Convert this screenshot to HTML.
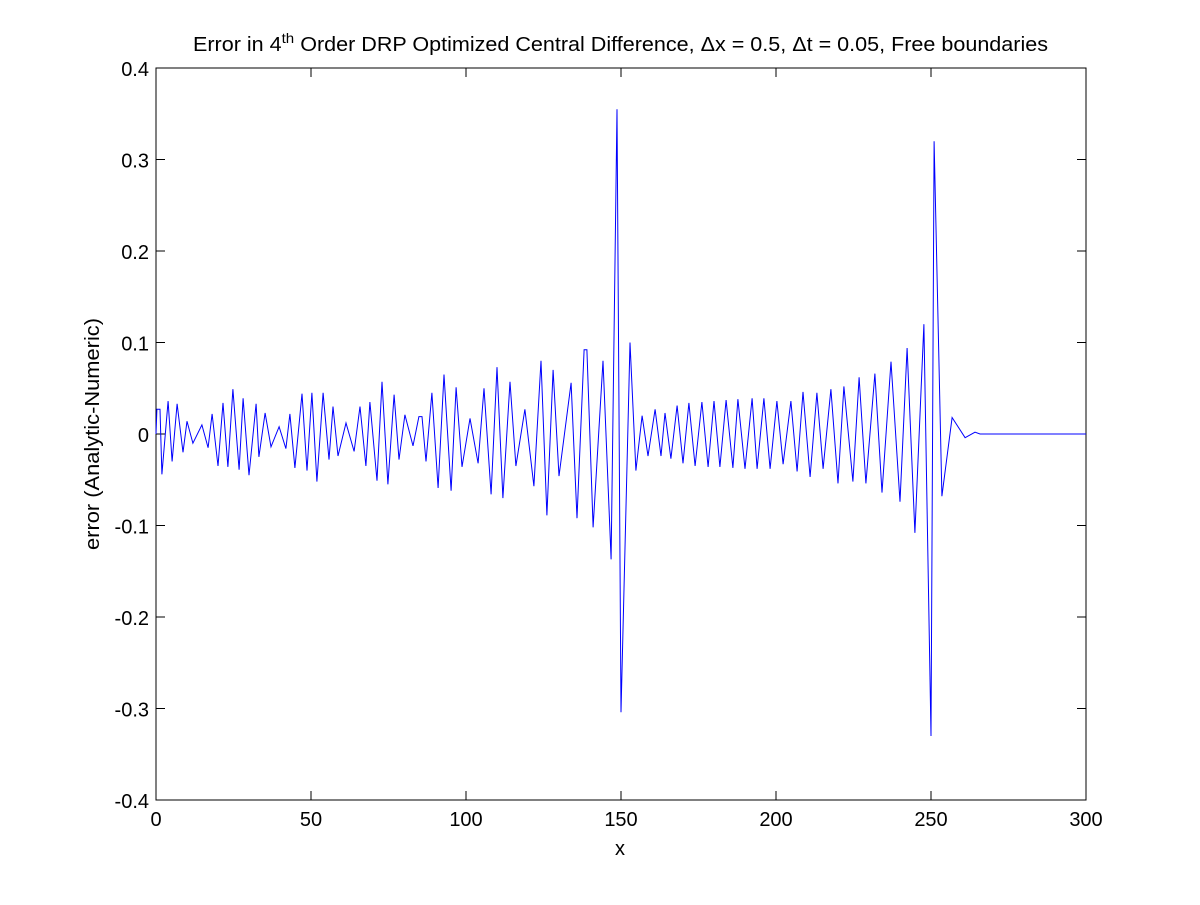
<!DOCTYPE html>
<html><head><meta charset="utf-8"><style>
body{margin:0;background:#fff;}
svg text{font-family:"Liberation Sans",Arial,sans-serif;fill:#000;}
</style></head><body>
<svg width="1200" height="900" viewBox="0 0 1200 900">
<rect width="1200" height="900" fill="#fff"/>
<g id="axes"></g>
<polyline id="series" fill="none" stroke="#0000ff" stroke-width="1"/>
<text x="193" y="51" font-size="20" textLength="855" lengthAdjust="spacingAndGlyphs">Error in 4<tspan dy="-8" font-size="14">th</tspan><tspan dy="8"> Order DRP Optimized Central Difference, Δx = 0.5, Δt = 0.05, Free boundaries</tspan></text>
<text x="620" y="855" text-anchor="middle" font-size="20">x</text>
<text transform="translate(99,434) rotate(-90)" text-anchor="middle" font-size="20" textLength="232" lengthAdjust="spacingAndGlyphs">error (Analytic-Numeric)</text>
</svg>
<script>
const xVals=[0,0.3,1.3,1.9,3.9,5.2,6.8,8.7,10.0,11.9,14.8,16.8,18.1,20.0,21.6,23.2,24.8,26.8,28.1,30.0,32.3,33.2,35.2,37.1,39.7,41.9,43.2,44.8,47.1,48.7,50.3,51.9,53.9,55.8,57.1,58.7,61.3,63.9,65.8,67.7,69.0,71.3,72.9,74.8,76.8,78.4,80.3,82.9,84.8,85.8,87.1,89.0,91.0,92.9,95.2,96.8,98.7,101.3,103.9,105.8,108.1,110.0,111.9,114.2,116.1,119.0,121.9,124.2,126.1,128.1,130.0,133.9,135.8,138.1,139.0,141.0,144.2,146.8,148.7,150.0,152.9,154.8,156.8,158.7,161.0,162.9,164.2,166.1,168.1,170.0,171.9,173.9,176.1,178.1,180.0,181.9,183.9,186.1,187.7,190.0,192.3,193.9,196.1,198.1,200.3,202.3,204.8,206.8,208.7,211.0,213.2,215.2,217.7,220.0,221.9,224.8,226.8,229.0,231.9,234.2,237.1,240.0,242.3,244.8,247.7,250.0,251.0,253.5,256.8,261.0,264.2,265.8,300];
const errVals=[0,0.027,0.027,-0.044,0.036,-0.030,0.033,-0.020,0.014,-0.010,0.010,-0.015,0.022,-0.035,0.034,-0.036,0.049,-0.039,0.039,-0.045,0.033,-0.025,0.023,-0.014,0.008,-0.016,0.022,-0.037,0.044,-0.040,0.045,-0.052,0.045,-0.028,0.030,-0.024,0.012,-0.019,0.030,-0.035,0.035,-0.051,0.057,-0.055,0.043,-0.028,0.021,-0.013,0.019,0.019,-0.030,0.045,-0.059,0.065,-0.062,0.051,-0.036,0.017,-0.032,0.050,-0.066,0.073,-0.070,0.057,-0.035,0.027,-0.057,0.080,-0.089,0.070,-0.046,0.056,-0.092,0.092,0.092,-0.102,0.080,-0.137,0.355,-0.304,0.100,-0.040,0.020,-0.024,0.027,-0.024,0.023,-0.027,0.031,-0.032,0.034,-0.035,0.035,-0.036,0.036,-0.036,0.037,-0.037,0.038,-0.038,0.039,-0.038,0.039,-0.038,0.036,-0.033,0.036,-0.041,0.046,-0.047,0.045,-0.038,0.049,-0.054,0.052,-0.052,0.062,-0.054,0.066,-0.064,0.079,-0.074,0.094,-0.108,0.120,-0.330,0.320,-0.068,0.018,-0.004,0.002,0,0];
const xTicks=[0,50,100,150,200,250,300];
const yTicks=[-0.4,-0.3,-0.2,-0.1,0,0.1,0.2,0.3,0.4];
const yTickLabels=["-0.4","-0.3","-0.2","-0.1","0","0.1","0.2","0.3","0.4"];
const L=156,R=1086,T=68,B=800;
const sx=v=>L+(v-0)/(300-0)*(R-L);
const sy=v=>B-(v+0.4)/0.8*(B-T);
const NS="http://www.w3.org/2000/svg";
const ax=document.getElementById('axes');
function mk(tag,attrs){const e=document.createElementNS(NS,tag);for(const k in attrs)e.setAttribute(k,attrs[k]);ax.appendChild(e);return e;}
const frame=mk('rect',{x:L,y:T,width:R-L,height:B-T,fill:'none',stroke:'#000','stroke-width':1});


xTicks.forEach(v=>{const x=sx(v);
 mk('line',{x1:x,y1:B,x2:x,y2:B-9,stroke:'#000'});
 mk('line',{x1:x,y1:T,x2:x,y2:T+9,stroke:'#000'});
 const t=mk('text',{x:x,y:B+26,'text-anchor':'middle','font-size':20});t.textContent=String(v);
 
 
});
yTicks.forEach((v,i)=>{const y=sy(v);
 mk('line',{x1:L,y1:y,x2:L+9,y2:y,stroke:'#000'});
 mk('line',{x1:R,y1:y,x2:R-9,y2:y,stroke:'#000'});
 const t=mk('text',{x:L-7,y:y+8,'text-anchor':'end','font-size':20});t.textContent=yTickLabels[i];
 
 
});
document.getElementById('series').setAttribute('points',xVals.map((x,i)=>sx(x).toFixed(1)+','+sy(errVals[i]).toFixed(1)).join(' '));
</script>
</body></html>
